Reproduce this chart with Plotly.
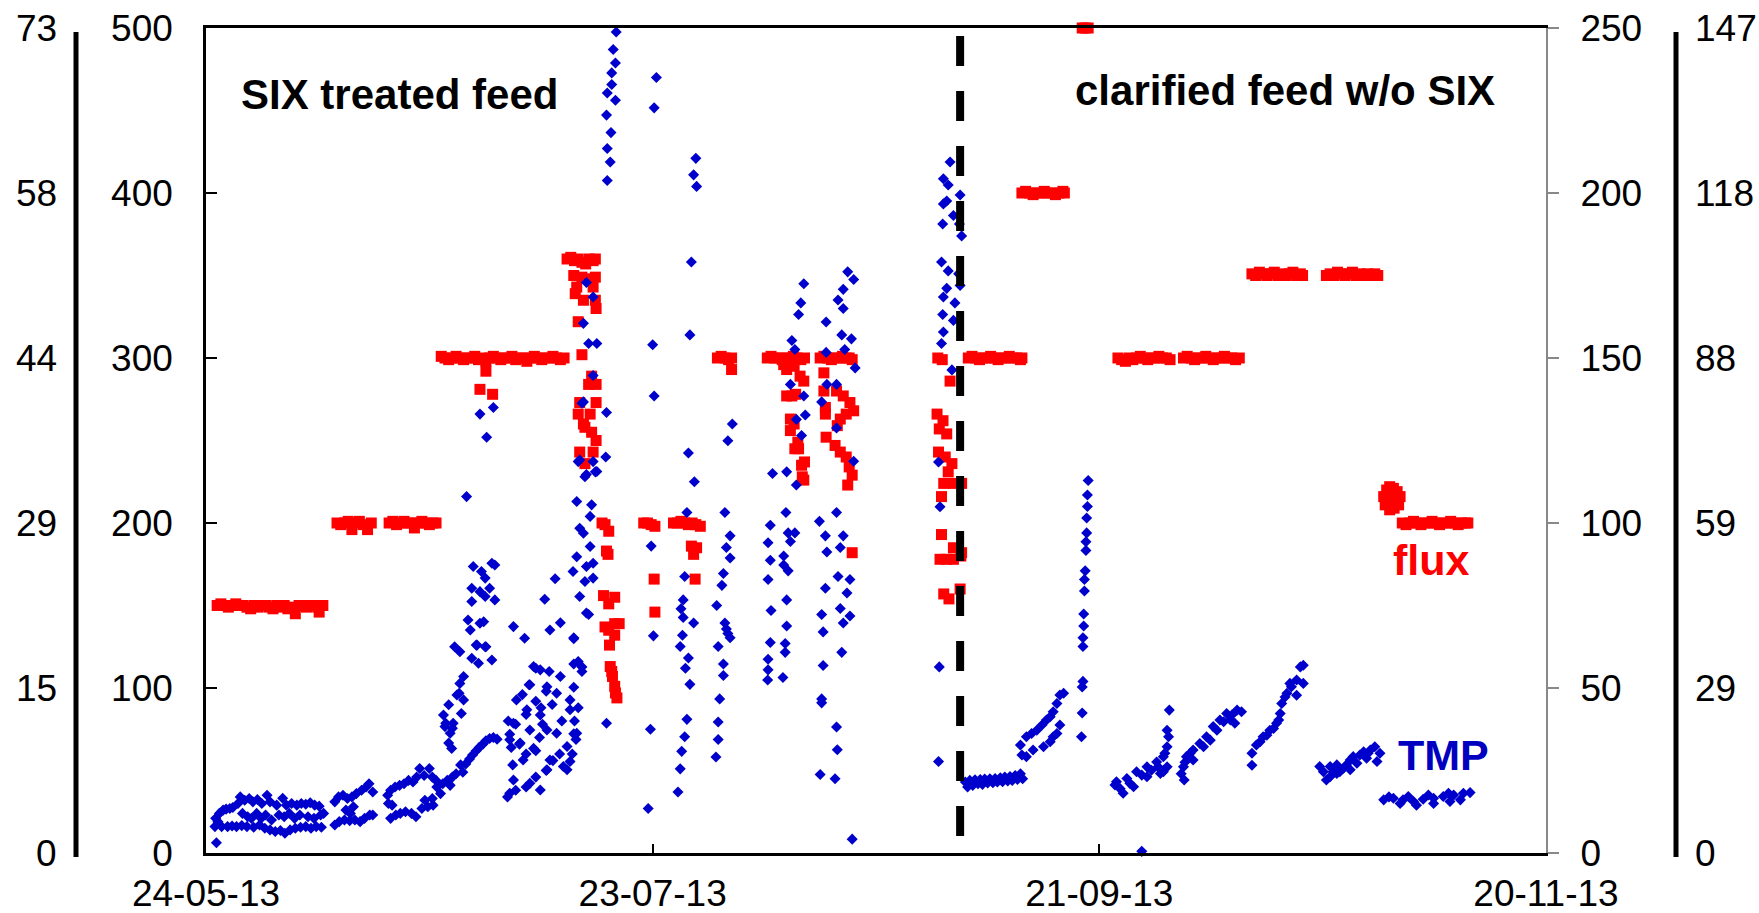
import pandas as pd
import plotly.graph_objects as go

START = "2013-05-24"
X_TICK_DATES = ["2013-05-24", "2013-07-23", "2013-09-21", "2013-11-20"]
X_TICK_LABELS = ["24-05-13", "23-07-13", "21-09-13", "20-11-13"]
FLUX_TICKS = [0, 100, 200, 300, 400, 500]
TMP_TICKS = [0, 50, 100, 150, 200, 250]
FAR_LEFT_LABELS = ["0", "15", "29", "44", "58", "73"]
FAR_RIGHT_LABELS = ["0", "29", "59", "88", "118", "147"]
SWITCH_DAY = 101.3  # change from SIX treated feed to clarified feed

# TMP readings (day since start, TMP) - SIX treated feed
tmp_six = [
    (1.4, 3.1),
    (1.8, 12), (2.3, 13), (2.7, 13.3), (3.2, 13.5), (3.6, 13.8), (4.3, 15), (4.6, 17), (5.2, 16), (5.8, 16.5),
    (6.3, 15.5), (6.9, 16.2), (7.5, 15), (8.2, 17.5), (8.6, 15.5), (9.5, 14.5), (10.3, 16.6), (10.8, 14.5),
    (11.5, 15), (12.2, 14.5), (12.8, 15), (13.4, 14.8), (14.0, 15.2), (14.6, 14.5), (15.2, 14.2), (15.8, 12),
    (1.3, 10.5), (1.6, 9.5), (4.9, 12), (5.6, 11), (6.1, 10.5), (6.8, 12), (7.4, 10.5), (8.0, 11.5), (8.8, 10),
    (9.8, 11.5), (10.5, 11), (11.2, 12), (11.9, 10.5), (12.6, 11.5), (13.7, 11), (14.5, 10.5), (15.4, 11.5),
    (1.2, 8), (2.1, 8), (2.9, 8), (3.5, 8.2), (4.1, 8), (4.8, 8.3), (5.5, 8), (6.4, 7.8), (7.2, 8.5), (7.9, 7.5),
    (8.6, 7), (9.3, 6.5), (10.0, 6.8), (10.6, 6), (11.3, 7), (12.0, 7.5), (12.7, 7.8), (13.4, 8), (14.1, 7.5),
    (14.8, 8), (15.5, 7.8),
    (17.3, 15.5), (17.8, 17), (18.4, 17.5), (19.0, 16.5), (19.6, 17), (20.2, 18), (20.9, 19), (21.5, 20),
    (21.9, 21), (22.4, 18.5), (18.8, 13), (19.4, 12), (19.8, 14),
    (17.3, 8.5), (17.9, 9.5), (18.6, 10), (19.3, 9.8), (20.0, 10), (20.7, 9.5), (21.3, 10.5), (22.0, 11.5), (22.4, 11.5),
    (24.4, 17.5), (24.8, 19), (25.4, 20), (26.0, 20.5), (26.6, 21), (27.2, 22), (27.8, 21.5), (28.3, 23),
    (28.7, 25.6), (29.3, 23.5), (30.0, 25.6), (30.4, 23), (30.9, 22),
    (24.5, 15), (25.0, 14.5), (29.4, 16), (30.4, 16.5),
    (24.8, 10.5), (25.5, 11.5), (26.1, 12), (26.8, 12.5), (27.6, 12), (28.2, 11), (29.0, 13.5), (29.8, 14), (30.5, 14.5),
    (31.0, 20), (31.5, 18), (31.8, 21), (32.4, 22), (32.8, 20.5), (33.1, 23), (33.6, 24), (34.2, 26.7), (34.5, 24.5),
    (34.9, 27), (35.4, 28.5), (35.8, 29.7), (36.3, 31), (36.7, 32), (37.2, 33), (37.6, 34), (38.1, 34.7),
    (38.6, 35), (39.1, 34.5),
    (35.9, 86.8), (37.0, 85.3), (38.4, 87.8), (38.8, 87.3), (37.5, 83.3), (35.7, 80.2), (36.8, 79.2), (38.1, 80.2),
    (37.5, 77.7), (38.8, 76.7), (35.7, 76.2), (35.2, 70.6), (36.8, 69.6), (37.3, 70.1), (35.5, 67.6), (33.4, 62.5),
    (34.1, 61), (36.4, 63), (37.5, 62.5), (35.7, 59), (36.6, 57.5), (38.4, 58.5), (34.6, 53.5), (34.1, 51.4),
    (33.7, 47.9), (34.6, 46.4), (32.6, 44.9), (31.9, 41.8), (34.3, 42.3), (33.2, 39.3), (32.1, 38.3), (32.8, 36.3),
    (32.6, 33.3), (33.0, 31.7), (36.3, 63), (37.6, 62.5), (34.0, 48.4), (33.1, 37.8), (32.2, 39.3),
    (35.0, 108), (36.8, 133), (38.6, 135), (37.7, 126),
    (40.5, 17), (41.6, 19), (43.0, 20), (44.3, 23), (45.7, 25), (46.6, 28),
    (40.8, 36), (41.6, 39), (43.0, 42), (44.3, 46), (45.7, 49), (46.1, 55), (44.3, 56), (43.4, 51), (41.0, 32),
    (42.1, 33), (43.0, 30), (44.3, 31), (41.2, 26.7), (44.8, 35), (45.2, 39),
    (44.0, 56.5), (44.9, 55.5), (47.6, 53.5), (43.5, 51), (45.8, 50.4), (47.1, 48.4), (48.9, 46.4), (41.7, 46.4),
    (43.1, 43.4), (44.9, 41.8), (41.3, 39.3), (43.5, 37.3), (45.8, 37.3), (48.9, 43.4), (49.8, 36.3), (40.8, 34.3),
    (42.2, 33.3), (44.0, 31.7), (48.5, 32.3), (47.1, 36.3), (46.2, 28.2), (48.0, 26.2), (42.6, 28.2), (41.3, 22.1),
    (43.5, 21.1), (44.9, 19.1), (40.8, 18.1), (48.5, 25.2), (48.9, 27.7), (45.8, 25.2),
    (47.5, 30), (47.8, 40), (46.5, 45), (42.5, 48), (45.0, 44), (49.2, 30), (49.5, 40), (40.6, 40),
    (41.3, 68.6), (42.8, 65.1), (45.5, 76.9), (46.2, 67.6), (47.6, 69.8), (46.9, 83.1), (49.4, 64.9), (50.0, 58), (50.5, 55),
    (49.8, 106.5), (51.8, 105.5), (51.6, 102), (50.2, 98.4), (50.7, 96.9), (51.6, 92.9), (49.8, 89.8), (51.1, 86.8),
    (52.0, 87.8), (49.3, 85.3), (50.9, 82.3), (52.0, 83.3), (50.2, 77.7), (51.1, 72.7), (53.8, 39.3), (50.0, 118.6),
    (52.0, 118.6), (52.5, 115.6), (50.9, 114), (53.7, 120), (53.8, 133.5), (50.5, 136.3),
    (49.4, 65.2), (49.4, 57.3), (50.5, 56.4), (51.4, 72.3), (51.1, 172.9), (52.0, 168.5), (50.7, 160.5),
    (51.4, 154.4), (52.5, 154.4), (52.0, 144.7), (50.7, 136.7), (50.2, 119.1), (51.1, 114.7), (52.3, 115.5),
    (49.4, 50.2), (50.0, 44), (49.4, 36.1), (49.7, 34.4),
    (55.1, 248.8), (54.7, 243.5), (55.0, 239.4), (54.5, 236.4), (54.5, 232.9), (53.9, 230.3), (55.0, 228.1),
    (53.8, 223.6), (54.4, 218.3), (53.9, 213.5), (54.3, 209.4), (53.9, 203.8),
    (60.5, 235), (60.2, 225.8), (60.0, 154), (60.2, 138.5), (59.8, 93), (60.1, 65.8), (59.7, 37.5), (59.4, 13.5),
    (65.8, 210.5), (65.5, 205.5), (65.9, 202), (65.2, 179.1), (65.0, 157), (64.8, 121.2), (65.6, 112.5),
    (64.6, 103.2), (64.3, 83.8), (64.1, 76.7), (64.1, 71.4), (63.7, 62.6), (64.8, 59.1), (65.5, 69.7), (65.0, 51.1),
    (64.6, 40.5), (64.3, 35.2), (63.9, 30.8), (63.7, 25.5), (63.4, 18.5), (63.8, 74), (64.0, 66), (64.4, 56),
    (70.7, 130), (70.1, 124.9), (69.7, 103.2), (70.4, 96.1), (69.9, 92.6), (70.4, 89.4), (69.5, 84.7), (69.3, 81.1),
    (68.6, 75), (69.9, 67.9), (70.4, 65.2), (68.8, 62.6), (69.5, 57.3), (69.5, 53.8), (69.0, 46.7), (68.8, 39.7),
    (68.8, 34.4), (68.5, 29.1), (69.7, 69.7), (70.1, 66.5),
    (80.3, 172.5), (79.9, 166.7), (79.6, 163.2), (78.7, 155.3), (79.1, 152.6), (78.5, 142), (80.3, 138.5),
    (79.3, 131.4), (80.5, 132.7), (80.0, 126.5), (79.3, 111.5), (76.1, 115), (78.0, 115.5), (77.9, 103.2),
    (75.8, 99.3), (75.5, 94), (78.2, 97), (79.1, 97), (78.5, 94.4), (77.6, 90), (77.6, 87.3), (78.2, 85.5),
    (75.8, 88.7), (75.5, 82.9), (78.0, 76.7), (75.9, 73.5), (78.0, 68.8), (77.8, 63.5), (77.8, 60.8), (75.8, 63.8),
    (75.5, 58.7), (75.5, 55.5), (75.45, 52.4), (77.5, 53.2),
    (86.2, 176.1), (85.6, 170.8), (87.0, 173.8), (84.9, 167.6), (85.6, 165), (83.3, 160.9), (85.4, 157),
    (86.7, 155.8), (83.3, 151.7), (85.8, 152.6), (87.2, 147), (83.4, 142), (82.7, 136.7), (84.7, 142),
    (84.7, 128.8), (87.0, 118.7), (82.4, 100.5), (83.2, 96.1), (84.7, 103.2), (85.6, 96.1), (85.2, 92.6),
    (83.4, 91.2), (84.9, 83.8), (86.5, 82.9), (83.2, 80.2), (86.1, 78.8), (85.2, 74.1), (86.5, 71.8), (82.7, 72.3),
    (85.6, 69.7), (82.9, 67), (85.4, 60.8), (82.9, 56.8), (82.7, 46.7), (82.7, 45.5), (84.7, 38.2), (84.8, 31.3),
    (82.5, 23.8), (84.5, 22.5), (86.8, 4.2),
    (99.95, 209.4), (99.05, 204.3), (99.7, 202.4), (99.5, 197.6), (99.05, 196.7), (100.4, 193.2), (98.96, 190.6),
    (101.3, 199.4), (101.2, 190.6), (101.5, 187), (98.8, 179.1), (99.7, 176.4), (99.05, 168.5), (99.5, 171.1),
    (100.6, 166.7), (98.96, 163.2), (99.05, 157.9), (98.8, 154.4), (100.4, 161.4), (100.2, 146.4), (101.1, 175.5),
    (101.3, 172), (98.4, 118.5), (98.6, 104.9), (98.5, 56.4), (98.4, 27.7),
]

# TMP readings - clarified feed without SIX
tmp_clarified = [
    (102.0, 21.5), (102.3, 20), (102.6, 22), (103.0, 20.5), (103.3, 22.2), (103.7, 21), (104.0, 22.3), (104.3, 20.8),
    (104.6, 22.4), (105.0, 21.2), (105.3, 22.5), (105.7, 21.3), (106.0, 22.6), (106.3, 21.5), (106.7, 22.8),
    (107.0, 21.6), (107.3, 23), (107.7, 21.8), (108.0, 23.2), (108.3, 22), (108.7, 23.5), (109.0, 22.3),
    (109.4, 24), (109.7, 22.5),
    (109.4, 32.7), (110.2, 35.2), (111.6, 37.2), (112.9, 40.3), (113.8, 42.8), (114.3, 45.3), (114.7, 47.9),
    (115.2, 48.4), (110.9, 36.2), (112.3, 38.8), (113.4, 41.3), (109.6, 29.7), (110.2, 29.2), (111.1, 31.2),
    (112.5, 32.2), (113.4, 33.7), (113.8, 35.2), (114.3, 36.2), (114.7, 38.8),
    (118.5, 112.9), (118.4, 108.5), (118.4, 105), (118.3, 101.5), (118.3, 97), (118.2, 94.3), (118.2, 91.7),
    (118.1, 85.5), (118.0, 82.9), (118.0, 79.4), (117.9, 72.4), (117.9, 68.8), (117.8, 65.2), (117.8, 62.6),
    (117.8, 52), (117.7, 50.3), (117.7, 42.4), (117.6, 35.2),
    (122.1, 20.6), (123.2, 18.1), (124.6, 20.1), (126.4, 23.1), (128.2, 24.1), (129.1, 26.1), (122.3, 21.6),
    (123.7, 22.6), (125.0, 24.6), (126.4, 26.1), (127.7, 27.6), (128.6, 29.2), (129.1, 32.2), (129.3, 35.2),
    (129.1, 37.2), (129.4, 43.3), (128.6, 24.6), (122.8, 19.5), (124.1, 21.1), (125.7, 23.6), (127.0, 25.1),
    (127.9, 26.1), (128.8, 30.2), (125.7, 0.5),
    (131.4, 22.1), (131.3, 26.1), (131.7, 29.2), (132.6, 31.2), (133.5, 33.2), (134.4, 35.2), (135.3, 38.3),
    (136.2, 40.3), (137.1, 42.3), (138.5, 43.3), (139.1, 42.8), (138.2, 39.3), (134.9, 34.2), (132.6, 28.2),
    (132.2, 30.2), (134.0, 32.2), (135.8, 37.2), (136.7, 39.8), (137.8, 41.8), (137.6, 40.3), (131.0, 24), (131.5, 27.5),
    (140.5, 26.6), (140.5, 30.2), (141.1, 32.7), (142.0, 35.2), (142.9, 37.2), (143.8, 39.3), (144.3, 42.3),
    (144.5, 45.3), (145.2, 48.4), (145.6, 51.4), (146.5, 52.4), (147.0, 56.4), (147.4, 56.9), (146.5, 47.8),
    (147.4, 51.4), (141.6, 33.7), (142.5, 35.7), (143.4, 37.7), (144.1, 40.3), (144.95, 47.3), (145.8, 50.4),
    (150.1, 24.6), (151.0, 23.1), (151.0, 26.2), (151.9, 26.7), (152.8, 25.7), (153.7, 28.2), (154.6, 27.2),
    (155.0, 29.7), (155.9, 28.7), (156.4, 31.2), (157.0, 32.2), (157.7, 30.2), (157.3, 27.7), (153.7, 25.2),
    (152.3, 24.6), (155.5, 30.7), (150.5, 22.1), (149.6, 26.2), (151.4, 24.6), (153.2, 26.7), (154.1, 29.2),
    (156.1, 30.2), (151.9, 24.1),
    (158.2, 16.1), (159.5, 16.6), (160.8, 16.1), (162.2, 15.6), (163.5, 16.3), (164.9, 16.6), (166.2, 17.1),
    (167.6, 17.6), (168.9, 18.1), (169.8, 18.3), (160.4, 15.0), (162.6, 14.5), (164.9, 15.0), (167.1, 15.6),
    (168.5, 16.1), (158.9, 17.0), (161.5, 17.1), (164.2, 17.6), (166.9, 18.1),
]

# Flux readings (day since start, flux) - SIX treated feed
flux_six = [
    (1.5, 150), (2.0, 151), (2.5, 150), (3.0, 149), (3.5, 150), (4.0, 151), (4.5, 150), (5.0, 150), (5.5, 149),
    (6.0, 148), (6.5, 150), (7.0, 149), (7.5, 150), (8.0, 150), (8.5, 149), (9.0, 148), (9.5, 150), (10.0, 149),
    (10.5, 150), (11.0, 148), (11.5, 149), (12.0, 145), (12.5, 150), (13.0, 150), (13.5, 149), (14.0, 150),
    (14.5, 150), (15.0, 149), (15.2, 146), (15.7, 150),
    (17.6, 200), (18.1, 199), (18.6, 200), (19.1, 201), (19.6, 196), (20.1, 200), (20.6, 201), (21.1, 199),
    (21.7, 196), (22.2, 200),
    (24.6, 200), (25.1, 201), (25.6, 199), (26.1, 200), (26.6, 201), (27.1, 200), (27.6, 200), (28.0, 197),
    (28.5, 200), (29.0, 201), (29.5, 200), (30.0, 199), (30.5, 200), (30.9, 200),
    (31.6, 301), (32.1, 300), (32.6, 299), (33.1, 300), (33.6, 301), (34.1, 300), (34.6, 299), (35.1, 300),
    (35.6, 300), (36.1, 301), (36.6, 299), (37.1, 300), (37.6, 298), (38.1, 300), (38.6, 301), (39.1, 300),
    (39.6, 299), (40.1, 300), (40.6, 300), (41.1, 301), (41.6, 299), (42.1, 300), (42.6, 300), (43.1, 298),
    (43.6, 300), (44.1, 301), (44.6, 300), (45.1, 299), (45.6, 300), (46.1, 300), (46.6, 301), (47.1, 300),
    (47.6, 299), (48.1, 300),
    (37.6, 292), (36.8, 281), (38.5, 278),
    (48.5, 360), (49.0, 361), (49.5, 359), (50.0, 360), (50.5, 358), (51.0, 357), (51.5, 360), (52.0, 359), (52.3, 360),
    (49.4, 350), (50.5, 349), (51.7, 348), (52.3, 349), (49.8, 343), (52.0, 343), (49.6, 339), (50.7, 335),
    (52.3, 335), (52.4, 330), (50.0, 322), (50.5, 302), (51.8, 289), (51.4, 284), (52.4, 284), (50.2, 273),
    (52.4, 273), (51.6, 266), (50.0, 266), (50.9, 258), (52.4, 250), (50.2, 243), (52.0, 243), (50.9, 236),
    (50.7, 260), (51.8, 255),
    (53.2, 200), (53.6, 199), (54.1, 195), (53.8, 183), (54.0, 181), (53.4, 156), (54.1, 151), (54.9, 155),
    (54.9, 139), (54.1, 135), (54.9, 132), (54.2, 126), (54.3, 113), (54.6, 107), (54.9, 101), (55.2, 94),
    (55.0, 97), (54.5, 110), (53.6, 137), (55.5, 139),
    (58.8, 200), (59.3, 200), (59.8, 199), (60.3, 198), (60.2, 166), (60.3, 146),
    (62.8, 200), (63.3, 200), (63.8, 201), (64.3, 200), (64.8, 199), (65.3, 200), (65.8, 199), (66.4, 198),
    (65.2, 186), (65.9, 185), (65.5, 181), (65.7, 166),
    (68.7, 300), (69.2, 301), (69.7, 300), (70.2, 299), (70.6, 300), (70.6, 293),
    (75.4, 300), (75.9, 301), (76.4, 300), (76.9, 300), (77.4, 299), (77.9, 300), (78.4, 300), (78.9, 301),
    (79.4, 300), (79.9, 299), (80.4, 300),
    (77.6, 296), (78.0, 293), (79.0, 295), (79.8, 289), (80.3, 286), (78.0, 277), (78.7, 277), (79.2, 278),
    (78.5, 263), (78.5, 256), (79.0, 260), (79.6, 245), (79.1, 245), (79.5, 249), (80.0, 235), (80.4, 237),
    (80.3, 226), (80.1, 228),
    (82.5, 300), (83.0, 301), (83.5, 300), (84.0, 299), (84.5, 300), (85.0, 300), (85.5, 301), (86.0, 300),
    (86.4, 300), (86.8, 299),
    (83.0, 291), (83.0, 280), (83.2, 270), (83.2, 266), (83.3, 252), (84.7, 280), (85.6, 277), (86.5, 273),
    (87.0, 268), (85.2, 263), (86.0, 266), (84.8, 259), (84.5, 247), (85.2, 243), (86.0, 240), (86.4, 234),
    (86.8, 229), (86.2, 223), (86.8, 182),
    (98.3, 300), (98.9, 299), (99.95, 286), (98.2, 266), (99.0, 262), (99.5, 254), (98.5, 257), (98.4, 243),
    (99.3, 240), (100.2, 236), (99.7, 231), (99.1, 224), (100.4, 224), (101.5, 224), (98.8, 216), (98.8, 193),
    (100.4, 185), (98.6, 178), (99.5, 178), (100.4, 178), (101.4, 180), (99.1, 157), (99.8, 154), (101.3, 160),
    (101.5, 182),
]

# Flux readings - clarified feed without SIX
flux_clarified = [
    (102.4, 300), (102.9, 301), (103.4, 300), (103.9, 299), (104.4, 300), (104.9, 300), (105.4, 301), (105.9, 300),
    (106.4, 299), (106.9, 300), (107.4, 300), (107.9, 301), (108.4, 300), (108.9, 300), (109.4, 299), (109.6, 300),
    (109.6, 400), (110.1, 401), (110.6, 400), (111.1, 399), (111.6, 400), (112.1, 400), (112.6, 401), (113.1, 400),
    (113.6, 400), (114.1, 399), (114.6, 400), (115.1, 401), (115.3, 400),
    (117.7, 500), (118.1, 500), (118.5, 500),
    (122.5, 300), (123.0, 299), (123.5, 298), (124.0, 300), (124.5, 299), (125.0, 300), (125.5, 301), (126.0, 300),
    (126.5, 299), (127.0, 300), (127.5, 300), (128.0, 301), (128.5, 300), (129.0, 300), (129.5, 299),
    (131.3, 300), (131.8, 301), (132.3, 300), (132.8, 299), (133.3, 300), (133.8, 300), (134.3, 301), (134.8, 300),
    (135.3, 299), (135.8, 300), (136.3, 300), (136.8, 301), (137.3, 300), (137.8, 300), (138.3, 299), (138.8, 300),
    (140.5, 351), (141.0, 350), (141.5, 352), (142.0, 351), (142.5, 350), (143.0, 351), (143.5, 352), (144.0, 350),
    (144.5, 351), (145.0, 350), (145.5, 351), (146.0, 352), (146.5, 350), (147.0, 351), (147.3, 350),
    (150.5, 350), (151.0, 351), (151.5, 350), (152.0, 352), (152.5, 351), (153.0, 350), (153.5, 351), (154.0, 352),
    (154.5, 350), (155.0, 351), (155.5, 350), (156.0, 351), (156.5, 350), (157.0, 351), (157.4, 350),
    (158.2, 216), (158.6, 220), (159.0, 222), (159.5, 221), (160.0, 219), (160.4, 216), (158.4, 211), (159.0, 208),
    (159.6, 209), (160.2, 211), (159.3, 215),
    (160.7, 200), (161.2, 199), (161.7, 200), (162.2, 201), (162.7, 200), (163.2, 199), (163.7, 200), (164.2, 200),
    (164.7, 201), (165.2, 200), (165.7, 199), (166.2, 200), (166.7, 200), (167.2, 201), (167.7, 200), (168.2, 199),
    (168.7, 200), (169.2, 200), (169.5, 200),
]

start = pd.Timestamp(START)


def to_dates(days):
    return [start + pd.Timedelta(days=float(d)) for d in days]


tmp_pts = tmp_six + tmp_clarified
flux_pts = flux_six + flux_clarified

BLUE = "rgb(0,0,204)"
RED = "rgb(255,0,0)"
FONT = "Liberation Sans, Arial, sans-serif"
W, H = 1759, 913
PL, PR, PT, PB = 206, 1546, 28, 853

fig = go.Figure()
fig.add_trace(go.Scatter(
    x=to_dates([p[0] for p in tmp_pts]), y=[p[1] for p in tmp_pts], yaxis="y2",
    mode="markers", marker=dict(symbol="diamond", size=8.5, color=BLUE, line=dict(width=0)),
    name="TMP", showlegend=False, cliponaxis=False))
fig.add_trace(go.Scatter(
    x=to_dates([p[0] for p in flux_pts]), y=[p[1] for p in flux_pts], yaxis="y",
    mode="markers", marker=dict(symbol="square", size=11, color=RED, line=dict(width=0)),
    name="flux", showlegend=False, cliponaxis=False))

tickfont = dict(family=FONT, size=37, color="black")
fig.update_layout(
    width=W, height=H,
    margin=dict(l=0, r=0, t=PT, b=H - PB, pad=0, autoexpand=False),
    paper_bgcolor="white", plot_bgcolor="white",
    showlegend=False,
    xaxis=dict(
        type="date", domain=[PL / W, PR / W],
        range=[X_TICK_DATES[0], X_TICK_DATES[-1]],
        tickmode="array", tickvals=X_TICK_DATES, ticktext=X_TICK_LABELS,
        ticks="inside", ticklen=9, tickwidth=1.5, tickcolor="black",
        showline=True, linecolor="black", linewidth=2.5, mirror=True,
        showgrid=False, zeroline=False, tickfont=tickfont, ticklabelstandoff=6,
    ),
    yaxis=dict(
        range=[0, 500], tickmode="array", tickvals=FLUX_TICKS,
        ticks="inside", ticklen=11, tickwidth=1.5, tickcolor="black",
        showline=True, linecolor="black", linewidth=2.5,
        showgrid=False, zeroline=False, tickfont=tickfont, ticklabelstandoff=23,
    ),
    yaxis2=dict(
        range=[0, 250], overlaying="y", side="right", anchor="x",
        tickmode="array", tickvals=TMP_TICKS,
        ticks="outside", ticklen=11, tickwidth=1.5, tickcolor="#888888",
        showline=True, linecolor="#888888", linewidth=2,
        showgrid=False, zeroline=False, tickfont=tickfont, ticklabelstandoff=14,
    ),
)


def py(Y):
    return (PB - Y) / (PB - PT)


switch_date = start + pd.Timedelta(days=SWITCH_DAY)
fig.add_shape(type="line", xref="x", yref="paper", x0=switch_date, x1=switch_date,
              y0=py(36), y1=py(850), line=dict(color="black", width=8, dash="30px,25px"), layer="above")
for xp in (76, 1676):
    fig.add_shape(type="line", xref="paper", yref="paper", x0=xp / W, x1=xp / W,
                  y0=py(32), y1=py(857), line=dict(color="black", width=5), layer="above")

# outer secondary scales (tick labels only)
for v, lab in zip(FLUX_TICKS, FAR_LEFT_LABELS):
    fig.add_annotation(text=lab, xref="paper", yref="y", x=59 / W, y=v, xanchor="right", yanchor="middle",
                       showarrow=False, font=tickfont)
for v, lab in zip(TMP_TICKS, FAR_RIGHT_LABELS):
    fig.add_annotation(text=lab, xref="paper", yref="y2", x=1693 / W, y=v, xanchor="left", yanchor="middle",
                       showarrow=False, font=tickfont)

bold = dict(family=FONT, size=42, color="black")
fig.add_annotation(text="<b>SIX treated feed</b>", xref="paper", yref="paper", x=239 / W, y=py(95),
                   xanchor="left", yanchor="middle", showarrow=False, font=bold)
fig.add_annotation(text="<b>clarified feed w/o SIX</b>", xref="paper", yref="paper", x=1497 / W, y=py(90),
                   xanchor="right", yanchor="middle", showarrow=False, font=bold)
fig.add_annotation(text="<b>flux</b>", xref="paper", yref="paper", x=1431 / W, y=py(560),
                   xanchor="center", yanchor="middle", showarrow=False, font=dict(family=FONT, size=43, color=RED))
fig.add_annotation(text="<b>TMP</b>", xref="paper", yref="paper", x=1443 / W, y=py(755),
                   xanchor="center", yanchor="middle", showarrow=False, font=dict(family=FONT, size=43, color="rgb(0,0,192)"))

fig.write_html("out.html", config={"displayModeBar": False})
